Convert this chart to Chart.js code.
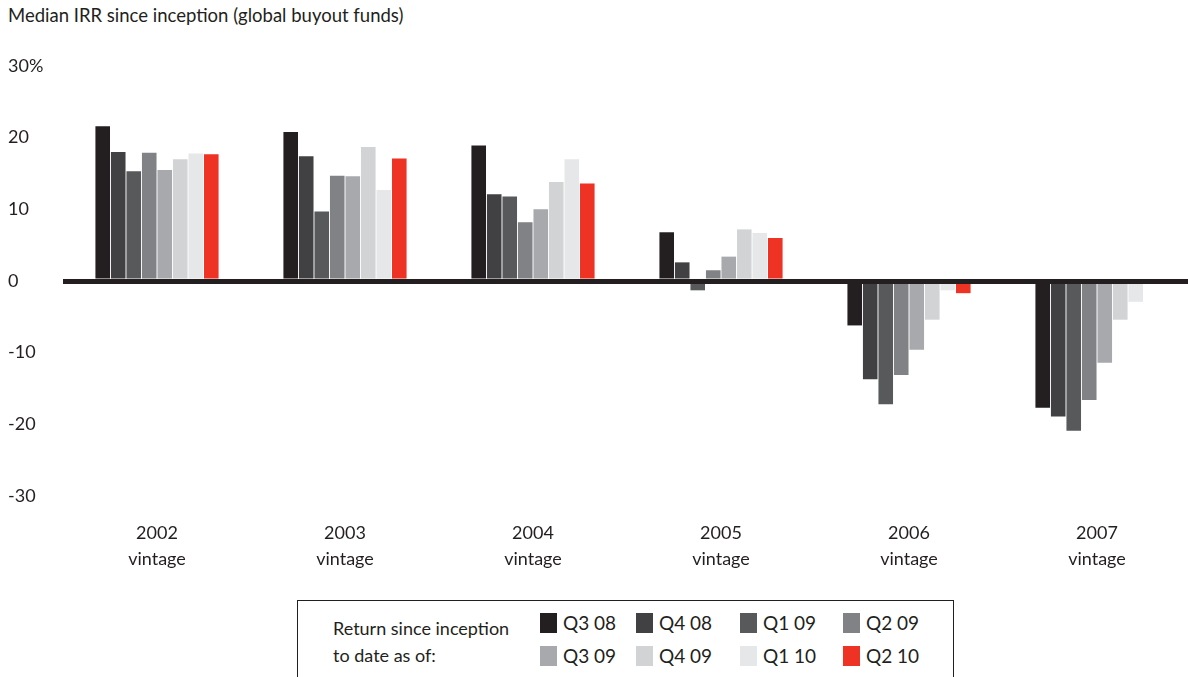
<!DOCTYPE html>
<html>
<head>
<meta charset="utf-8">
<script src="https://cdn.jsdelivr.net/npm/chart.js@4.4.1/dist/chart.umd.min.js"></script>
<style>
  body { margin: 0; background: #fff; font-family: Lato, sans-serif; color: #231f20; }
  #wrap { position: relative; width: 1188px; height: 677px; overflow: hidden; }
  #title { position: absolute; left: 8px; top: 4px; font-size: 18.5px; }
  #chartBox { position: absolute; left: 0; top: 0; width: 1191px; height: 577px; }
  #legend { position: absolute; left: 297px; top: 600px; width: 657px; height: 90px; border: 1px solid #231f20; box-sizing: border-box; font-size: 19px; }
  #legend .lbl { position: absolute; left: 35px; top: 14px; line-height: 27px; font-size: 18px; }
  #legend .item { position: absolute; height: 20px; line-height: 20px; white-space: nowrap; }
  #legend .sw { display: inline-block; width: 17px; height: 20px; vertical-align: top; margin-right: 6px; }
</style>
</head>
<body>
<div id="wrap">
  <div id="title">Median IRR since inception (global buyout funds)</div>
  <div id="chartBox"><canvas id="irrChart"></canvas></div>
  <div id="legend"><div class="lbl">Return since inception<br>to date as of:</div></div>
</div>
<script>
const vintages = ['2002', '2003', '2004', '2005', '2006', '2007'];
const seriesNames = ['Q3 08', 'Q4 08', 'Q1 09', 'Q2 09', 'Q3 09', 'Q4 09', 'Q1 10', 'Q2 10'];
const seriesColors = ['#231f20', '#414042', '#58595b', '#808285', '#a7a9ac', '#d1d3d4', '#e6e7e8', '#ee3224'];

// values per vintage year, one array per quarter
const q308 = [21.6, 20.8, 18.9, 6.8, -6.2, -17.7];
const q408 = [18.0, 17.4, 12.1, 2.6, -13.7, -18.9];
const q109 = [15.3, 9.7, 11.8, -1.3, -17.2, -20.9];
const q209 = [17.9, 14.7, 8.2, 1.5, -13.1, -16.6];
const q309 = [15.5, 14.6, 10.0, 3.4, -9.6, -11.4];
const q409 = [17.0, 18.7, 13.8, 7.2, -5.4, -5.4];
const q110 = [17.8, 12.7, 17.0, 6.7, -1.3, -2.9];
const q210 = [17.7, 17.1, 13.6, 6.0, -1.7, -0.3];
const seriesData = [q308, q408, q109, q209, q309, q409, q110, q210];

const yTicks = [30, 20, 10, 0, -10, -20, -30];

const FONT = 'Lato, sans-serif';

// legend in html box
const legend = document.getElementById('legend');
const colX = [242, 338, 442, 545];
const rowY = [12, 45];
seriesNames.forEach((name, i) => {
    const d = document.createElement('div');
    d.className = 'item';
    d.style.left = colX[i % 4] + 'px';
    d.style.top = rowY[Math.floor(i / 4)] + 'px';
    d.innerHTML = `<span class="sw" style="background:${seriesColors[i]}"></span>${name}`;
    legend.appendChild(d);
});

new Chart(document.getElementById('irrChart'), {
    type: 'bar',
    data: {
        labels: vintages.map(v => [v, 'vintage']),
        datasets: seriesNames.map((name, i) => ({
            label: name,
            data: seriesData[i],
            backgroundColor: seriesColors[i],
            categoryPercentage: 0.66,
            barPercentage: 0.94
        }))
    },
    options: {
        responsive: true, maintainAspectRatio: false,
        animation: false,
        layout: { padding: { top: 66, left: 8, right: 0, bottom: 0 } },
        scales: {
            x: {
                grid: { display: false },
                border: { display: false },
                ticks: { color: '#231f20', font: { family: FONT, size: 18, lineHeight: 1.4 }, padding: 17, maxRotation: 0 },
                afterFit: (s) => { s.height = 81; }
            },
            y: {
                min: -30, max: 30,
                afterBuildTicks: (s) => { s.ticks = yTicks.map(v => ({ value: v })); },
                afterFit: (s) => { s.width = 55; },
                border: { display: false },
                grid: {
                    drawTicks: false,
                    color: (c) => c.tick && c.tick.value === 0 ? '#231f20' : 'rgba(0,0,0,0)',
                    lineWidth: (c) => c.tick && c.tick.value === 0 ? 5 : 0,
                    z: 1
                },
                ticks: {
                    crossAlign: 'far',
                    color: '#231f20',
                    font: { family: FONT, size: 18 },
                    callback: (v) => v === 30 ? '30%' : String(v)
                }
            }
        },
        plugins: {
            legend: { display: false },
            tooltip: { enabled: false }
        }
    }
});
</script>
</body>
</html>
